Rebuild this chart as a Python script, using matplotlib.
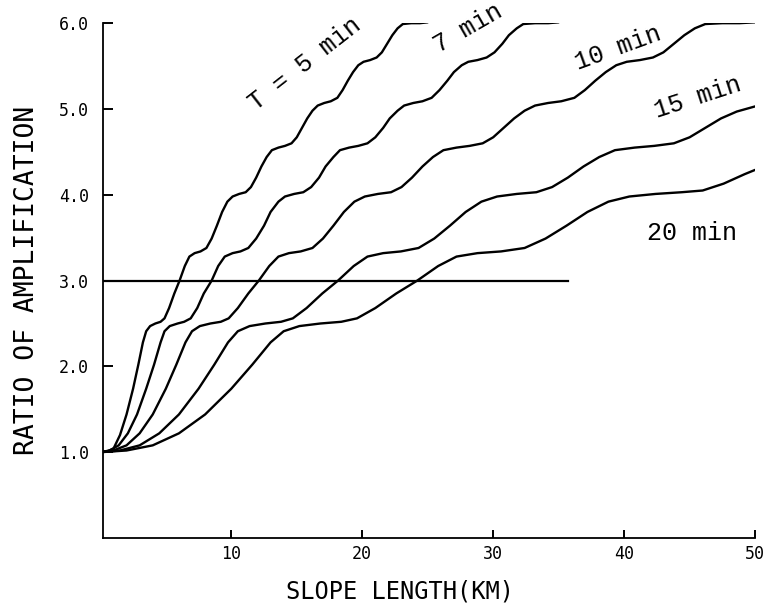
import matplotlib
matplotlib.use("Agg")
import matplotlib.pyplot as plt

# ---- data (slope length in km, ratio of amplification) ----
t5_x = [0.0, 0.5, 1.0, 1.5, 2.0, 2.5, 2.9, 3.25, 3.5, 3.8, 4.2, 4.6, 4.9, 5.25, 5.65, 6.05,
        6.45, 6.8, 7.2, 7.65, 8.1, 8.5, 8.9, 9.3, 9.7, 10.1, 10.6, 11.1, 11.5, 11.9, 12.3,
        12.7, 13.1, 13.6, 14.1, 14.6, 15.0, 15.4, 15.8, 16.2, 16.6, 17.1, 17.6, 18.1, 18.5,
        18.9, 19.3, 19.7, 20.1, 20.6, 21.1, 21.5, 21.9, 22.3, 22.7, 23.1, 23.75, 24.4, 25.0]
t5_y = [1.00, 1.01, 1.04, 1.20, 1.44, 1.74, 2.02, 2.28, 2.41, 2.47, 2.50, 2.52, 2.56, 2.68,
        2.85, 3.00, 3.17, 3.28, 3.32, 3.34, 3.38, 3.49, 3.64, 3.80, 3.92, 3.98, 4.01, 4.03,
        4.09, 4.20, 4.33, 4.44, 4.52, 4.55, 4.57, 4.60, 4.67, 4.78, 4.89, 4.98, 5.04, 5.07,
        5.09, 5.13, 5.22, 5.33, 5.43, 5.51, 5.55, 5.57, 5.60, 5.66, 5.76, 5.86, 5.94, 5.99,
        6.00, 6.00, 6.01]

t7_x = [0.0, 0.7, 1.4, 2.1, 2.8, 3.5, 4.1, 4.6, 4.9, 5.3, 5.9, 6.4, 6.9, 7.4, 7.9, 8.5, 9.0,
        9.5, 10.1, 10.7, 11.3, 11.9, 12.5, 13.0, 13.6, 14.1, 14.8, 15.5, 16.1, 16.7, 17.2,
        17.8, 18.3, 19.0, 19.7, 20.4, 21.0, 21.6, 22.1, 22.7, 23.2, 23.9, 24.6, 25.3, 25.9,
        26.5, 27.0, 27.6, 28.1, 28.8, 29.5, 30.1, 30.7, 31.2, 31.8, 32.3, 33.2, 34.2, 35.0]
t7_y = [1.00, 1.02, 1.08, 1.22, 1.44, 1.74, 2.02, 2.28, 2.41, 2.47, 2.50, 2.52, 2.56, 2.68,
        2.85, 3.00, 3.17, 3.28, 3.32, 3.34, 3.38, 3.49, 3.64, 3.80, 3.92, 3.98, 4.01, 4.03,
        4.09, 4.20, 4.33, 4.44, 4.52, 4.55, 4.57, 4.60, 4.67, 4.78, 4.89, 4.98, 5.04, 5.07,
        5.09, 5.13, 5.22, 5.33, 5.43, 5.51, 5.55, 5.57, 5.60, 5.66, 5.76, 5.86, 5.94, 5.99,
        6.00, 6.00, 6.01]

t10_x = [0.0, 1.0, 2.0, 3.0, 4.0, 5.0, 5.8, 6.5, 7.0, 7.6, 8.4, 9.2, 9.8, 10.5, 11.3, 12.1,
         12.9, 13.6, 14.4, 15.3, 16.2, 17.0, 17.8, 18.6, 19.4, 20.2, 21.2, 22.2, 23.0, 23.8,
         24.6, 25.4, 26.2, 27.2, 28.2, 29.2, 30.0, 30.8, 31.6, 32.4, 33.2, 34.2, 35.2, 36.2,
         37.0, 37.8, 38.6, 39.4, 40.2, 41.2, 42.2, 43.0, 43.8, 44.6, 45.4, 46.2, 47.5, 48.8, 50.0]
t10_y = [1.00, 1.02, 1.08, 1.22, 1.44, 1.74, 2.02, 2.28, 2.41, 2.47, 2.50, 2.52, 2.56, 2.68,
         2.85, 3.00, 3.17, 3.28, 3.32, 3.34, 3.38, 3.49, 3.64, 3.80, 3.92, 3.98, 4.01, 4.03,
         4.09, 4.20, 4.33, 4.44, 4.52, 4.55, 4.57, 4.60, 4.67, 4.78, 4.89, 4.98, 5.04, 5.07,
         5.09, 5.13, 5.22, 5.33, 5.43, 5.51, 5.55, 5.57, 5.60, 5.66, 5.76, 5.86, 5.94, 5.99,
         6.00, 6.00, 6.01]

t15_x = [0.0, 1.5, 3.0, 4.5, 6.0, 7.5, 8.7, 9.75, 10.5, 11.4, 12.6, 13.8, 14.7, 15.75, 16.95,
         18.15, 19.35, 20.4, 21.6, 22.95, 24.3, 25.5, 26.7, 27.9, 29.1, 30.3, 31.8, 33.3, 34.5,
         35.7, 36.9, 38.1, 39.3, 40.8, 42.3, 43.8, 45.0, 46.2, 47.4, 48.6, 50.0]
t15_y = [1.00, 1.02, 1.08, 1.22, 1.44, 1.74, 2.02, 2.28, 2.41, 2.47, 2.50, 2.52, 2.56, 2.68,
         2.85, 3.00, 3.17, 3.28, 3.32, 3.34, 3.38, 3.49, 3.64, 3.80, 3.92, 3.98, 4.01, 4.03,
         4.09, 4.20, 4.33, 4.44, 4.52, 4.55, 4.57, 4.60, 4.67, 4.78, 4.89, 4.97, 5.03]

t20_x = [0.0, 2.0, 4.0, 6.0, 8.0, 10.0, 11.6, 13.0, 14.0, 15.2, 16.8, 18.4, 19.6, 21.0, 22.6,
         24.2, 25.8, 27.2, 28.8, 30.6, 32.4, 34.0, 35.6, 37.2, 38.8, 40.4, 42.4, 44.4, 46.0,
         47.6, 49.2, 50.0]
t20_y = [1.00, 1.02, 1.08, 1.22, 1.44, 1.74, 2.02, 2.28, 2.41, 2.47, 2.50, 2.52, 2.56, 2.68,
         2.85, 3.00, 3.17, 3.28, 3.32, 3.34, 3.38, 3.49, 3.64, 3.80, 3.92, 3.98, 4.01, 4.03,
         4.05, 4.13, 4.24, 4.29]

curves = [(t5_x, t5_y), (t7_x, t7_y), (t10_x, t10_y), (t15_x, t15_y), (t20_x, t20_y)]

# reference level line at ratio 3.0
ref_x = [0.0, 35.7]
ref_y = [3.0, 3.0]

curve_labels = ["T = 5 min", "7 min", "10 min", "15 min", "20 min"]
label_pos = [(15.6, 5.52, 38), (28.1, 5.94, 30), (39.5, 5.71, 20), (45.6, 5.13, 18), (45.2, 3.55, 0)]

x_ticks = [10, 20, 30, 40, 50]
y_ticks = [1.0, 2.0, 3.0, 4.0, 5.0, 6.0]

# ---- figure ----
fig = plt.figure(figsize=(7.65, 6.10), dpi=100)
ax = fig.add_axes([0.1346, 0.118, 0.987 - 0.1346, 0.962 - 0.118])

for cx, cy in curves:
    ax.plot(cx, cy, color="black", lw=1.7, solid_capstyle="round")
ax.plot(ref_x, ref_y, color="black", lw=1.6)

for text, (tx, ty, rot) in zip(curve_labels, label_pos):
    ax.text(tx, ty, text, rotation=rot, ha="center", va="center",
            family="Liberation Mono", fontsize=18, rotation_mode="anchor")

ax.set_xlim(0.2, 50)
ax.set_ylim(0, 6)
ax.spines["top"].set_visible(False)
ax.spines["right"].set_visible(False)
for s in ("left", "bottom"):
    ax.spines[s].set_linewidth(1.3)

ax.set_xticks(x_ticks)
ax.set_xticklabels([str(v) for v in x_ticks], family="DejaVu Sans Mono", fontsize=12)
ax.set_yticks(y_ticks)
ax.set_yticklabels([f"{v:.1f}" for v in y_ticks], family="DejaVu Sans Mono", fontsize=12)
ax.tick_params(axis="y", direction="in", length=7, width=1.4, pad=10)
ax.tick_params(axis="x", direction="in", length=6, width=1.4, pad=5)

ax.set_xlabel("SLOPE LENGTH(KM)", family="DejaVu Sans Mono", fontsize=17)
ax.xaxis.set_label_coords(0.455, -0.08)
ax.set_ylabel("RATIO OF AMPLIFICATION", family="DejaVu Sans Mono", fontsize=19, labelpad=14)

fig.savefig("out.png", dpi=100)
